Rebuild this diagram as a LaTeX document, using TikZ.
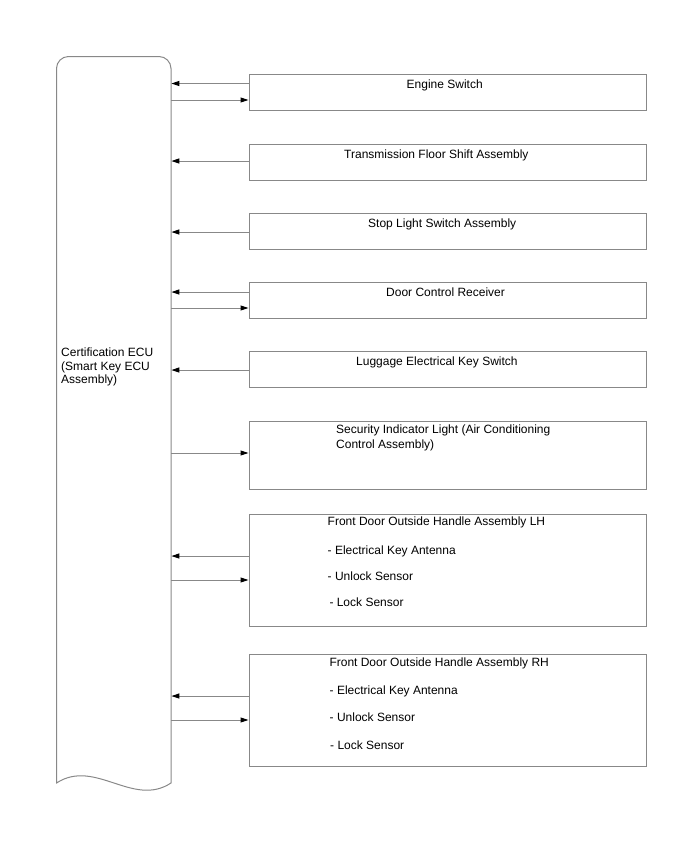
\documentclass[tikz,border=0pt]{standalone}
\usepackage{fontspec}
\setmainfont{Liberation Sans}
\usetikzlibrary{arrows.meta}
\definecolor{linegray}{HTML}{888888}
\tikzset{
  box/.style={draw=linegray, line width=1pt, rectangle, inner sep=0pt, minimum width=397.5pt, anchor=north west},
  lbl/.style={anchor=base west, inner sep=0pt, font=\fontsize{12}{14}\selectfont, text=black},
  arr/.style={draw=linegray, line width=1pt, -{Triangle[length=8pt,width=5pt,black]}},
}
\begin{document}
\begin{tikzpicture}[x=1pt,y=-1pt]
\useasboundingbox (0,0) rectangle (688,852);
% ECU
\node[inner sep=0pt, minimum width=114.5pt, minimum height=727pt, anchor=north west] (ecu) at (56.5,56.5) {};
\draw[draw=linegray, line width=1pt] (56.5,783) -- (56.5,68.5)
  .. controls (56.5,61.9) and (61.9,56.5) .. (68.5,56.5) -- (159,56.5)
  .. controls (165.6,56.5) and (171,61.9) .. (171,68.5) -- (171,783)
  .. controls (133,808) and (95,758) .. (56.5,783) -- cycle;
\node[lbl] (ecut1) at (61,356.5) {Certification ECU};
\node[lbl] (ecut2) at (61,370) {(Smart Key ECU};
\node[lbl] (ecut3) at (61,383) {Assembly)};
% boxes
\node[box, minimum height=36pt] (b1) at (248.5,74) {};
\node[box, minimum height=36pt] (b2) at (248.5,143.5) {};
\node[box, minimum height=36pt] (b3) at (248.5,212.5) {};
\node[box, minimum height=35.5pt] (b4) at (248.5,282) {};
\node[box, minimum height=36.5pt] (b5) at (248.5,350.5) {};
\node[box, minimum height=68pt] (b6) at (248.5,421) {};
\node[box, minimum height=112pt] (b7) at (248.5,513.5) {};
\node[box, minimum height=112pt] (b8) at (248.5,653.5) {};
% texts
\node[lbl] (t1) at (406.5,88.3) {Engine Switch};
\node[lbl] (t2) at (344,158) {Transmission Floor Shift Assembly};
\node[lbl] (t3) at (368,227) {Stop Light Switch Assembly};
\node[lbl] (t4) at (386,296.5) {Door Control Receiver};
\node[lbl] (t5) at (356,365) {Luggage Electrical Key Switch};
\node[lbl] (t6a) at (336,433.3) {Security Indicator Light (Air Conditioning};
\node[lbl] (t6b) at (336,448.3) {Control Assembly)};
\node[lbl] (t7) at (327.5,525.7) {Front Door Outside Handle Assembly LH};
\node[lbl] (t7a) at (327.5,554.3) {- Electrical Key Antenna};
\node[lbl] (t7b) at (327.5,580) {- Unlock Sensor};
\node[lbl] (t7c) at (329.3,606.7) {- Lock Sensor};
\node[lbl] (t8) at (329.3,666) {Front Door Outside Handle Assembly RH};
\node[lbl] (t8a) at (329.5,694.3) {- Electrical Key Antenna};
\node[lbl] (t8b) at (329.5,721.7) {- Unlock Sensor};
\node[lbl] (t8c) at (330,749) {- Lock Sensor};
% arrows
\draw[arr] (b1.west |- 0,83.5) -- (ecu.east |- 0,83.5);
\draw[arr] (ecu.east |- 0,100) -- (b1.west |- 0,100);
\draw[arr] (b2.west |- 0,161) -- (ecu.east |- 0,161);
\draw[arr] (b3.west |- 0,232) -- (ecu.east |- 0,232);
\draw[arr] (b4.west |- 0,292) -- (ecu.east |- 0,292);
\draw[arr] (ecu.east |- 0,308) -- (b4.west |- 0,308);
\draw[arr] (b5.west |- 0,370) -- (ecu.east |- 0,370);
\draw[arr] (ecu.east |- 0,453) -- (b6.west |- 0,453);
\draw[arr] (b7.west |- 0,556) -- (ecu.east |- 0,556);
\draw[arr] (ecu.east |- 0,580) -- (b7.west |- 0,580);
\draw[arr] (b8.west |- 0,696) -- (ecu.east |- 0,696);
\draw[arr] (ecu.east |- 0,720) -- (b8.west |- 0,720);
\end{tikzpicture}
\end{document}
